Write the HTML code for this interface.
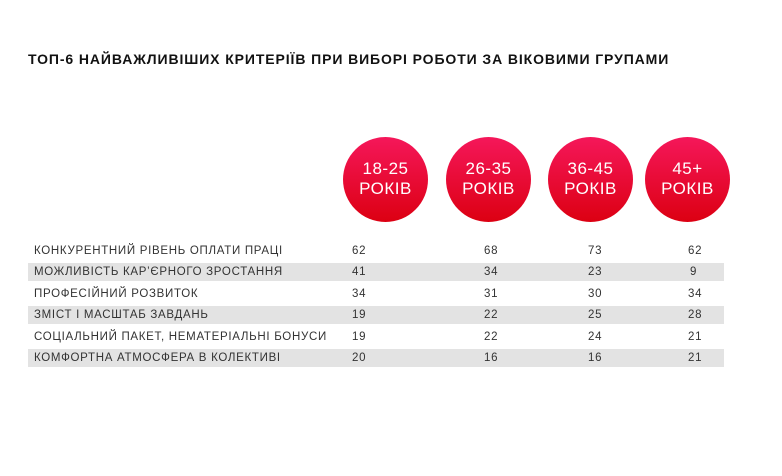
<!DOCTYPE html>
<html><head><meta charset="utf-8"><style>
body{margin:0;width:782px;height:476px;background:#fff;font-family:"Liberation Sans",sans-serif;position:relative;overflow:hidden}
.t{position:absolute;left:28px;top:51px;font-size:14px;font-weight:bold;color:#111;letter-spacing:0.9px;white-space:nowrap}
.c{position:absolute;width:85px;height:85px;border-radius:50%;background:linear-gradient(#f5175a,#dc0012);color:#fff;text-align:center;font-size:17px;line-height:20px;box-sizing:border-box;padding-top:22px;top:137px;letter-spacing:0.5px}
.r{position:absolute;left:28px;width:696px;height:18px;font-size:11.5px;color:#333;line-height:18px;letter-spacing:0.7px}
.r.g{background:#e3e3e3}
.r span{position:absolute;top:0}
.r .l{left:6px}
</style></head><body>
<div class="t">ТОП-6 НАЙВАЖЛИВІШИХ КРИТЕРІЇВ ПРИ ВИБОРІ РОБОТИ ЗА ВІКОВИМИ ГРУПАМИ</div>
<div class="c" style="left:343px">18-25<br>РОКІВ</div>
<div class="c" style="left:446px">26-35<br>РОКІВ</div>
<div class="c" style="left:548px">36-45<br>РОКІВ</div>
<div class="c" style="left:645px">45+<br>РОКІВ</div>
<div class="r" style="top:242px"><span class="l">КОНКУРЕНТНИЙ РІВЕНЬ ОПЛАТИ ПРАЦІ</span><span style="left:324px">62</span><span style="left:456px">68</span><span style="left:560px">73</span><span style="left:660px">62</span></div>
<div class="r g" style="top:263px"><span class="l">МОЖЛИВІСТЬ КАР’ЄРНОГО ЗРОСТАННЯ</span><span style="left:324px">41</span><span style="left:456px">34</span><span style="left:560px">23</span><span style="left:662px">9</span></div>
<div class="r" style="top:285px"><span class="l">ПРОФЕСІЙНИЙ РОЗВИТОК</span><span style="left:324px">34</span><span style="left:456px">31</span><span style="left:560px">30</span><span style="left:660px">34</span></div>
<div class="r g" style="top:306px"><span class="l">ЗМІСТ І МАСШТАБ ЗАВДАНЬ</span><span style="left:324px">19</span><span style="left:456px">22</span><span style="left:560px">25</span><span style="left:660px">28</span></div>
<div class="r" style="top:328px"><span class="l">СОЦІАЛЬНИЙ ПАКЕТ, НЕМАТЕРІАЛЬНІ БОНУСИ</span><span style="left:324px">19</span><span style="left:456px">22</span><span style="left:560px">24</span><span style="left:660px">21</span></div>
<div class="r g" style="top:349px"><span class="l">КОМФОРТНА АТМОСФЕРА В КОЛЕКТИВІ</span><span style="left:324px">20</span><span style="left:456px">16</span><span style="left:560px">16</span><span style="left:660px">21</span></div>
</body></html>
